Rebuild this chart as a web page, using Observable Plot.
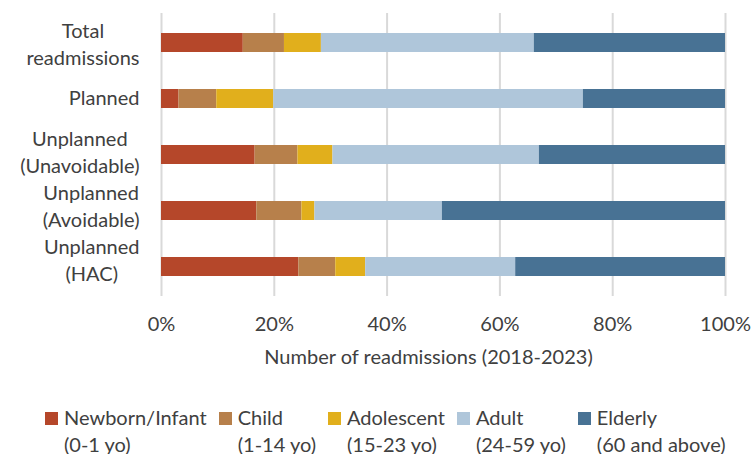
<!DOCTYPE html>
<html>
<head>
<meta charset="utf-8">
<script src="https://cdn.jsdelivr.net/npm/d3@7"></script>
<script src="https://cdn.jsdelivr.net/npm/@observablehq/plot@0.6"></script>
<style>
  body { margin: 0; background: #fff; font-family: Lato, sans-serif; color: #404040; }
  #legend { display: flex; gap: 12px; margin-top: 34px; padding-left: 45px; font-size: 20px; line-height: 27px; }
  .item { display: flex; align-items: flex-start; }
  .sw { width: 13px; height: 13px; margin-top: 8px; margin-right: 6px; flex: none; }
  .txt { white-space: nowrap; }
</style>
</head>
<body>
<div id="chart"></div>
<div id="legend"></div>
<script>
const categories = ["Total readmissions", "Planned", "Unplanned (Unavoidable)", "Unplanned (Avoidable)", "Unplanned (HAC)"];
const categoryLabels = ["Total\nreadmissions", "Planned", "Unplanned\n(Unavoidable)", "Unplanned\n(Avoidable)", "Unplanned\n(HAC)"];
const groups = ["Newborn/Infant", "Child", "Adolescent", "Adult", "Elderly"];
const groupSub = ["(0-1 yo)", "(1-14 yo)", "(15-23 yo)", "(24-59 yo)", "(60 and above)"];
const colors = ["#B5472A", "#B7804B", "#E1AF1C", "#AFC6DA", "#487294"];
// percentage share per category, in group order
const newborn    = [14.5, 3.1, 16.6, 16.9, 24.35];
const child      = [7.3, 6.7, 7.6, 8.0, 6.55];
const adolescent = [6.55, 10.1, 6.2, 2.3, 5.3];
const adult      = [37.75, 54.9, 36.6, 22.6, 26.6];
const elderly    = [33.9, 25.2, 33.0, 50.2, 37.2];
const xTicks = [0, 20, 40, 60, 80, 100];
const xLabel = "Number of readmissions (2018-2023)";

const series = [newborn, child, adolescent, adult, elderly];
const rows = [];
categories.forEach((c, i) => groups.forEach((g, j) => rows.push({cat: c, group: g, value: series[j][i]})));

const FS = 20;
const ctx = document.createElement("canvas").getContext("2d");
ctx.font = FS + "px Lato";
const labelWidth = s => Math.max(...s.split("\n").map(l => ctx.measureText(l).width));

const labelMarks = categories.map((c, i) => Plot.text([c], {
  y: d => d, text: () => categoryLabels[i],
  frameAnchor: "left", textAnchor: "middle", lineAnchor: "middle",
  lineHeight: 1.32, fontSize: FS, fill: "#404040",
  dx: -(22 + labelWidth(categoryLabels[i]) / 2),
  dy: -2 * i
}));

const chart = Plot.plot({
  width: 753, height: 370,
  marginLeft: 161, marginRight: 28, marginTop: 13, marginBottom: 74,
  style: { fontFamily: "Lato, sans-serif", fontSize: FS + "px", color: "#404040", background: "#fff", overflow: "visible" },
  x: { domain: [0, 100] },
  y: { domain: categories, paddingInner: 0.655, paddingOuter: 0.3275 },
  color: { domain: groups, range: colors },
  marks: [
    Plot.gridX(xTicks, { stroke: "#d9d9d9", strokeOpacity: 1, strokeWidth: 2 }),
    Plot.barX(rows, { x: "value", y: "cat", fill: "group", order: groups }),
    Plot.axisX({ ticks: xTicks, tickFormat: d => d + "%", tickSize: 0, tickPadding: 20, label: null, fontSize: FS }),
    Plot.axisY({ ticks: [], label: null, tickSize: 0 }),
    ...labelMarks,
    Plot.text([xLabel], { text: d => d, frameAnchor: "bottom", lineAnchor: "middle", dx: -15, dy: 61, fontSize: FS, fill: "#404040" })
  ]
});
document.getElementById("chart").appendChild(chart);

const legend = document.getElementById("legend");
groups.forEach((g, i) => {
  const item = document.createElement("div");
  item.className = "item";
  item.innerHTML = `<div class="sw" style="background:${colors[i]}"></div><div class="txt">${g}<br>${groupSub[i]}</div>`;
  legend.appendChild(item);
});
</script>
</body>
</html>
